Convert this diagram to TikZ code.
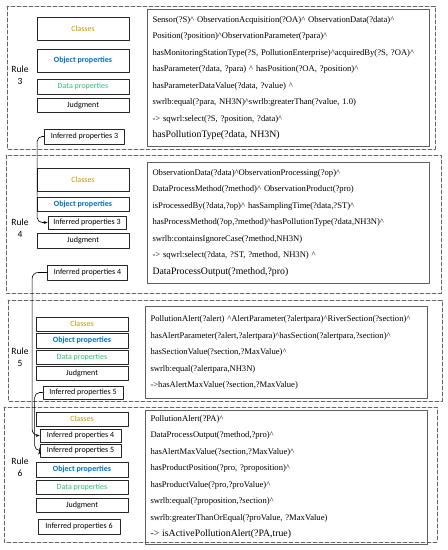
\documentclass[tikz,border=0pt]{standalone}
\usepackage{fontspec}
\setmainfont{Liberation Serif}
\setsansfont{Carlito}
\usetikzlibrary{arrows.meta}
\definecolor{clsgold}{RGB}{197,152,0}
\definecolor{objblue}{RGB}{0,112,192}
\definecolor{datgreen}{RGB}{56,186,120}
\definecolor{framegray}{RGB}{95,95,95}
\newcommand{\andc}{\textasciicircum}
\newcommand{\bigln}{\fontsize{9.8}{16.5}\selectfont}
\begin{document}
\begin{tikzpicture}[x=1pt,y=-1pt,line join=round,line cap=round,>={Stealth[length=4pt,width=3pt]},
  lbox/.style={draw=black!85,line width=0.7pt,minimum width=92pt,minimum height=14pt,inner sep=0pt,font=\sffamily\fontsize{8}{9}\selectfont},
  ibox/.style={lbox,minimum width=80pt},
  rbox/.style={draw=framegray,line width=1pt,anchor=north west,align=left,inner sep=5pt,text width=272pt,font=\fontsize{8.6}{16.5}\selectfont},
  rulebox/.style={draw=black!60,dashed,line width=0.7pt,dash pattern=on 4pt off 2pt},
  rulelab/.style={align=center,font=\sffamily\fontsize{9.5}{12}\selectfont}]
\useasboundingbox (0,0) rectangle (448,550);
\draw[rulebox] (7,6) rectangle (435,149);
\draw[rulebox] (6,155) rectangle (441,293);
\draw[rulebox] (8,300) rectangle (442,401);
\draw[rulebox] (4,407) rectangle (437,542);
\node[rulelab] (r3lab) at (20,75) {Rule\\3};
\node[rulelab] (r4lab) at (20,228) {Rule\\4};
\node[rulelab] (r5lab) at (20,357) {Rule\\5};
\node[rulelab] (r6lab) at (20,467) {Rule\\6};
% rule 3
\node[lbox,minimum height=23pt,text=clsgold] (r3cls) at (83,28.5) {Classes};
\node[lbox,minimum height=23pt,text=objblue,font=\sffamily\bfseries\fontsize{8}{9}\selectfont] (r3obj) at (83,60.5) {Object properties};
\node[lbox,minimum height=15pt,text=datgreen] (r3dat) at (83,86.5) {Data properties};
\node[lbox] (r3jdg) at (83,105) {Judgment};
\node[ibox,minimum height=15pt] (r3inf) at (84.5,136.5) {Inferred properties 3};
\node[rbox,minimum height=137pt] (r3txt) at (147,9) {Sensor(?S)\andc{} ObservationAcquisition(?OA)\andc{} ObservationData(?data)\andc\\
Position(?position)\andc ObservationParameter(?para)\andc\\
hasMonitoringStationType(?S, PollutionEnterprise)\andc acquiredBy(?S, ?OA)\andc\\
hasParameter(?data, ?para) \andc{} hasPosition(?OA, ?position)\andc\\
hasParameterDataValue(?data, ?value) \andc\\
swrlb:equal(?para, NH3N)\andc swrlb:greaterThan(?value, 1.0)\\
-> sqwrl:select(?S, ?position, ?data)\andc\\
{\bigln hasPollutionType(?data, NH3N)}};
% rule 4
\node[lbox,minimum height=23pt,text=clsgold] (r4cls) at (83,179.5) {Classes};
\node[lbox,text=objblue,font=\sffamily\bfseries\fontsize{8}{9}\selectfont] (r4obj) at (83,204) {Object properties};
\node[ibox,minimum width=78pt,minimum height=13pt] (r4inf3) at (87,222.5) {Inferred properties 3};
\node[lbox,minimum height=15pt] (r4jdg) at (83,240.5) {Judgment};
\node[ibox,minimum height=15pt] (r4inf) at (87.5,272.5) {Inferred properties 4};
\node[rbox,minimum height=121pt] (r4txt) at (147,162) {ObservationData(?data)\andc ObservationProcessing(?op)\andc\\
DataProcessMethod(?method)\andc{} ObservationProduct(?pro)\\
isProcessedBy(?data,?op)\andc{} hasSamplingTime(?data,?ST)\andc\\
hasProcessMethod(?op,?method)\andc hasPollutionType(?data,NH3N)\andc\\
swrlb:containsIgnoreCase(?method,NH3N)\\
-> sqwrl:select(?data, ?ST, ?method, NH3N) \andc\\
{\bigln DataProcessOutput(?method,?pro)}};
% rule 5
\node[lbox,text=clsgold] (r5cls) at (82,324) {Classes};
\node[lbox,minimum height=15pt,text=objblue,font=\sffamily\bfseries\fontsize{8}{9}\selectfont] (r5obj) at (82,340.5) {Object properties};
\node[lbox,text=datgreen] (r5dat) at (82,357.5) {Data properties};
\node[lbox] (r5jdg) at (82,373.5) {Judgment};
\node[ibox,minimum height=13pt] (r5inf) at (83,392.5) {Inferred properties 5};
\node[rbox,minimum height=92pt] (r5txt) at (145,306) {PollutionAlert(?alert) \andc AlertParameter(?alertpara)\andc RiverSection(?section)\andc\\
hasAlertParameter(?alert,?alertpara)\andc hasSection(?alertpara,?section)\andc\\
hasSectionValue(?section,?MaxValue)\andc\\
swrlb:equal(?alertpara,NH3N)\\
->hasAlertMaxValue(?section,?MaxValue)};
% rule 6
\node[lbox,text=clsgold] (r6cls) at (82,419) {Classes};
\node[ibox,minimum width=81pt,minimum height=13pt] (r6inf4) at (80.5,435.5) {Inferred properties 4};
\node[ibox,minimum width=81pt,minimum height=13pt] (r6inf5) at (80.5,450.5) {Inferred properties 5};
\node[lbox,minimum height=15pt,text=objblue,font=\sffamily\bfseries\fontsize{8}{9}\selectfont] (r6obj) at (82,469.5) {Object properties};
\node[lbox,text=datgreen] (r6dat) at (82,487) {Data properties};
\node[lbox] (r6jdg) at (82,505) {Judgment};
\node[ibox,minimum width=82pt,minimum height=15pt] (r6inf) at (79,526.5) {Inferred properties 6};
\node[rbox,minimum height=128pt] (r6txt) at (145,410) {PollutionAlert(?PA)\andc\\
DataProcessOutput(?method,?pro)\andc\\
hasAlertMaxValue(?section,?MaxValue)\andc\\
hasProductPosition(?pro, ?proposition)\andc\\
hasProductValue(?pro,?proValue)\andc\\
swrlb:equal(?proposition,?section)\andc\\
swrlb:greaterThanOrEqual(?proValue, ?MaxValue)\\
{\bigln -> isActivePollutionAlert(?PA,true)}};
% inferred links
\draw[->,line width=0.6pt,rounded corners=5pt] (r3inf.west) -- ++(-7,0) |- (r4inf3.west);
\draw[->,line width=0.6pt,rounded corners=6pt] (r4inf.west) -- ++(-15,0) |- (r6inf4.west);
\draw[->,line width=0.6pt,rounded corners=5pt] (r5inf.west) -- ++(-8,0) |- (r6inf5.west);
\end{tikzpicture}
\end{document}
